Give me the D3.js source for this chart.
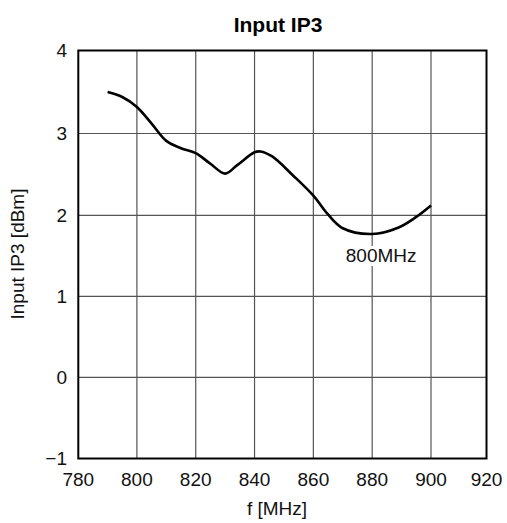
<!DOCTYPE html>
<html>
<head>
<meta charset="utf-8">
<script src="https://cdn.jsdelivr.net/npm/d3@7"></script>
<style>
  html, body { margin: 0; padding: 0; background: #fff; }
  svg { display: block; font-family: "Liberation Sans", Arial, sans-serif; }
</style>
</head>
<body>
<svg id="chart" width="507" height="523"></svg>
<script>
// Data
const freq = [790, 795, 800, 805, 810, 815, 820, 825, 830, 834, 840, 842, 846, 853, 860, 865, 870, 880, 889, 895, 900];
const ip3  = [3.50, 3.44, 3.32, 3.12, 2.91, 2.82, 2.76, 2.63, 2.51, 2.61, 2.77, 2.78, 2.72, 2.49, 2.24, 2.01, 1.84, 1.77, 1.85, 1.98, 2.12];
const xTicks = [780, 800, 820, 840, 860, 880, 900, 920];
const yTicks = [-1, 0, 1, 2, 3, 4];
const title = "Input IP3";
const xTitle = "f [MHz]";
const yTitle = "Input IP3 [dBm]";
const note = "800MHz";

const svg = d3.select("#chart");
const x = d3.scaleLinear().domain([780, 800, 900, 920]).range([78.3, 136.9, 431, 486.5]);
const y = d3.scaleLinear().domain([4, 3, 2, -1]).range([50.5, 133.5, 215.3, 458.5]);

const font = 19;

// grid
svg.append("g").selectAll("line").data(xTicks.slice(1, -1)).join("line")
  .attr("x1", d => x(d)).attr("x2", d => x(d))
  .attr("y1", y(4)).attr("y2", y(-1))
  .attr("stroke", "#555").attr("stroke-width", 1.2);
svg.append("g").selectAll("line").data(yTicks.slice(1, -1)).join("line")
  .attr("y1", d => y(d)).attr("y2", d => y(d))
  .attr("x1", x(780)).attr("x2", x(920))
  .attr("stroke", "#555").attr("stroke-width", 1.2);

// frame
svg.append("rect")
  .attr("x", x(780)).attr("y", y(4))
  .attr("width", x(920) - x(780)).attr("height", y(-1) - y(4))
  .attr("fill", "none").attr("stroke", "#000").attr("stroke-width", 2);

// curve
const line = d3.line().x((d, i) => x(freq[i])).y(d => y(d)).curve(d3.curveCatmullRom.alpha(0.5));
svg.append("path").datum(ip3)
  .attr("d", line)
  .attr("fill", "none").attr("stroke", "#000").attr("stroke-width", 2.6)
  .attr("stroke-linejoin", "round").attr("stroke-linecap", "butt");

// annotation
const noteX = x(880) + 9, noteY = 262;
const noteT = svg.append("text").attr("x", noteX).attr("y", noteY)
  .attr("text-anchor", "middle").attr("font-size", font).attr("fill", "#111").text(note);
const bb = noteT.node().getBBox();
svg.insert("rect", "text").attr("x", bb.x - 1).attr("y", bb.y + 1)
  .attr("width", bb.width + 2).attr("height", bb.height - 1).attr("fill", "#fff");

// tick labels
svg.append("g").selectAll("text").data(xTicks).join("text")
  .attr("x", d => x(d)).attr("y", 486)
  .attr("text-anchor", "middle").attr("font-size", font).attr("fill", "#111")
  .text(d => d);
svg.append("g").selectAll("text").data(yTicks).join("text")
  .attr("x", 67).attr("y", d => y(d)).attr("dy", "0.35em")
  .attr("text-anchor", "end").attr("font-size", font).attr("fill", "#111")
  .text(d => d < 0 ? "\u2212" + Math.abs(d) : d);

// titles
svg.append("text").attr("x", 278).attr("y", 32).attr("text-anchor", "middle")
  .attr("font-size", 21).attr("font-weight", "bold").attr("fill", "#000").text(title);
svg.append("text").attr("x", 277).attr("y", 515).attr("text-anchor", "middle")
  .attr("font-size", font).attr("fill", "#111").text(xTitle);
svg.append("text").attr("transform", "translate(24,254) rotate(-90)")
  .attr("text-anchor", "middle").attr("font-size", font).attr("fill", "#111").text(yTitle);
</script>
</body>
</html>
